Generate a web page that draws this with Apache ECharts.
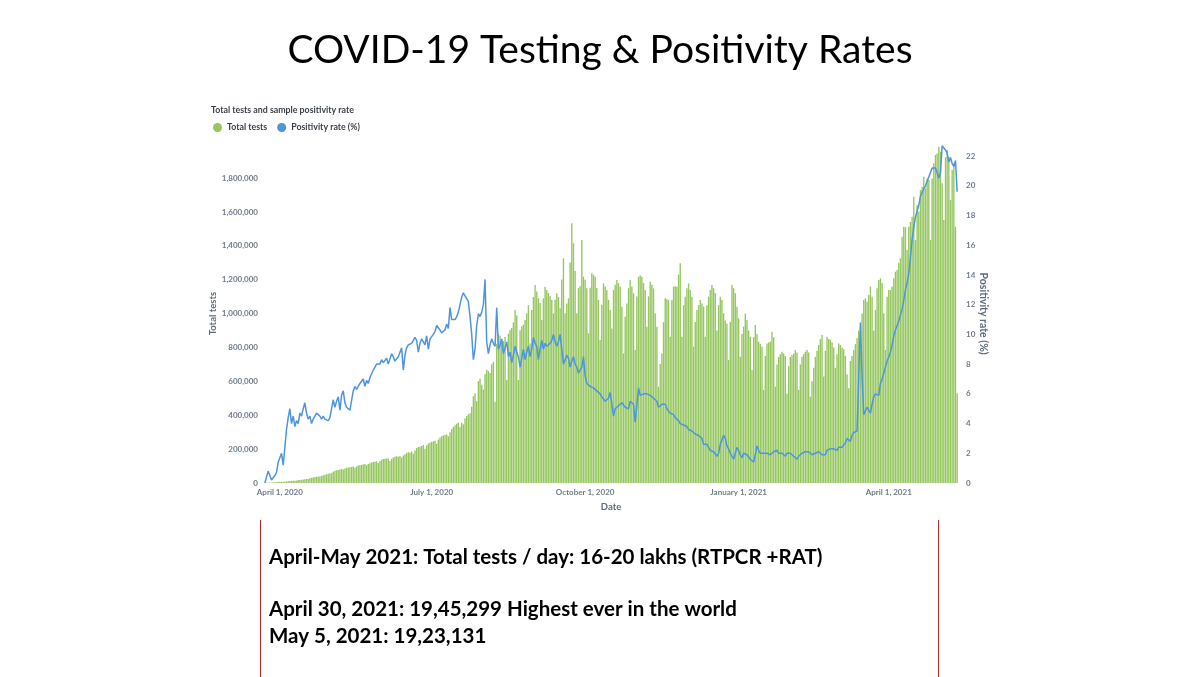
<!DOCTYPE html>
<html>
<head>
<meta charset="utf-8">
<script src="https://cdn.jsdelivr.net/npm/echarts@6/dist/echarts.min.js"></script>
<style>
html,body{margin:0;padding:0;background:#fff;}
#chart{width:1200px;height:677px;}
</style>
</head>
<body>
<div id="chart"></div>
<script>
// ---- DATA ----
const START_DATE = '2020-03-23';
const xTickLabels = ['April 1, 2020', 'July 1, 2020', 'October 1, 2020', 'January 1, 2021', 'April 1, 2021'];
// Daily total tests (thousands)
const totalTestsK = [
  1, 2, 2, 3, 3,
  4, 5, 6, 6, 7, 7, 8,
  8, 10, 11, 12, 12, 13, 14,
  14, 17, 18, 19, 21, 22, 24,
  24, 28, 31, 33, 35, 37, 39,
  38, 42, 46, 49, 52, 54, 56,
  58, 66, 72, 75, 77, 80, 83,
  80, 86, 89, 91, 93, 95, 98,
  90, 98, 103, 105, 107, 109, 112,
  105, 112, 117, 121, 124, 126, 128,
  118, 130, 137, 141, 143, 145, 144,
  130, 143, 151, 155, 158, 155, 160,
  150, 163, 170, 177, 181, 179, 186,
  172, 192, 206, 213, 216, 219, 224,
  202, 222, 233, 239, 243, 246, 250,
  232, 256, 268, 276, 281, 284, 286,
  276, 300, 318, 331, 341, 350, 357,
  330, 356, 346, 381, 396, 405, 412,
  450, 512, 530, 482, 601, 615, 580,
  552, 642, 668, 660, 650, 701, 716,
  480, 822, 882, 870, 848, 838, 862,
  608, 882, 905, 915, 948, 1021, 990,
  608, 902, 925, 935, 962, 1002, 1050,
  824, 1021, 1098, 1169, 1130, 1090, 1062,
  962, 1090, 1159, 1139, 1121, 1102, 1080,
  1002, 1082, 1120, 1098, 1031, 1202, 1326,
  1002, 1060, 1090, 1302, 1533, 1415, 1252,
  1002, 1150, 1162, 1434, 1218, 1200, 1149,
  883, 1152, 1238, 1230, 1218, 1151, 1080,
  844, 1052, 1178, 1160, 1139, 1082, 1021,
  912, 1139, 1170, 1198, 1180, 1159, 1041,
  765, 982, 1060, 1150, 1198, 1160, 1120,
  785, 1101, 1218, 1225, 1218, 1180, 1139,
  922, 1102, 1188, 1170, 1149, 1002, 922,
  568, 702, 765, 950, 1090, 1085, 1080,
  864, 1080, 1159, 1162, 1159, 1230, 1297,
  864, 1050, 1100, 1150, 1178, 1140, 1100,
  805, 950, 1021, 1050, 1080, 1060, 1041,
  864, 1050, 1100, 1140, 1169, 1150, 1120,
  900, 1050, 1100, 1080, 1002, 960, 942,
  726, 950, 1169, 1150, 1120, 1040, 972,
  745, 880, 923, 1000, 962, 900, 864,
  667, 860, 932, 880, 834, 820, 805,
  549, 750, 824, 830, 834, 893, 860,
  569, 700, 745, 760, 775, 765, 750,
  529, 690, 745, 755, 765, 785, 770,
  549, 700, 745, 760, 775, 785, 770,
  510, 600, 680, 745, 780, 814, 850,
  873, 628, 780, 864, 850, 844, 830,
  800, 680, 760, 824, 815, 800, 790, 750, 640,
  560, 720, 750, 785, 820, 854, 900,
  780, 1000, 1080, 1090, 1070, 1110, 1160, 1100,
  900, 1021, 1150, 1198, 1208, 1180, 1000, 785, 1100, 1139,
  1139, 1160, 1208, 1247, 1257, 1300, 1326, 1454, 1513, 1510,
  1375, 1513, 1540, 1572, 1690, 1434, 1641, 1602, 1730, 1749,
  1808, 1740, 1798, 1789, 1434, 1798, 1887, 1936, 1945, 1985,
  1956, 1769, 1552, 1923, 1966, 1926, 1671, 1848, 1887, 1513,
  530
];
// Daily sample positivity rate (%)
const positivityRate = [
  0.0, 0.4, 0.8, 0.5, 0.2, 0.3, 0.5, 0.7, 1.4, 1.5,
  2.0, 1.2, 2.4, 3.6, 4.4, 5.0, 4.0, 4.5, 3.8, 4.2,
  4.0, 4.7, 4.5, 5.0, 5.4, 4.7, 4.3, 4.5, 4.0, 4.3,
  4.5, 4.7, 4.8, 4.5, 4.3, 4.5, 4.3, 4.2, 4.2, 4.4,
  4.3, 5.6, 5.1, 5.5, 5.8, 4.9, 5.9, 6.2, 5.4, 5.1,
  5.0, 4.9, 5.0, 6.2, 6.5, 6.3, 6.4, 6.7, 6.8, 7.0,
  6.5, 6.9, 6.7, 7.1, 7.2, 7.6, 7.8, 8.0, 7.9, 8.0,
  8.3, 8.1, 8.0, 8.4, 8.0, 7.9, 8.7, 8.5, 8.2, 8.3,
  8.5, 8.8, 9.1, 7.6, 8.6, 9.1, 9.3, 9.2, 9.4, 9.6,
  9.8, 9.6, 8.8, 9.4, 9.7, 9.5, 9.3, 9.9, 9.0, 9.7,
  9.8, 10.0, 10.2, 10.6, 10.6, 10.3, 10.1, 10.2, 10.3, 10.7,
  10.4, 11.8, 11.0, 10.9, 11.0, 11.2, 11.5, 12.0, 12.5, 12.8,
  12.6, 12.4, 12.2, 11.2, 10.0, 8.3, 9.0, 10.6, 11.4, 11.2,
  11.5, 12.0, 13.7, 9.5, 8.7, 9.3, 9.7, 9.4, 9.2, 11.8,
  9.0, 9.3, 9.7, 8.7, 9.1, 9.5, 8.5, 8.8, 8.1, 8.6,
  9.2, 8.8, 8.5, 7.8, 8.4, 9.0, 8.3, 8.8, 9.2, 8.5,
  9.0, 9.8, 9.4, 9.2, 8.3, 9.0, 9.6, 9.0, 9.4, 9.2,
  9.3, 9.4, 9.6, 10.0, 9.5, 9.2, 9.5, 10.0, 9.0, 8.0,
  8.3, 8.6, 8.4, 7.8, 8.2, 8.5, 8.0, 7.8, 7.4, 7.6,
  7.8, 8.5, 7.2, 6.7, 6.8, 6.5, 6.6, 6.4, 6.3, 6.2,
  6.1, 6.0, 5.8, 5.8, 5.5, 5.6, 5.7, 6.1, 6.2, 4.5,
  5.0, 4.9, 5.2, 5.3, 5.4, 5.4, 5.1, 5.2, 5.0, 5.5,
  5.4, 5.3, 4.1, 5.2, 6.4, 5.9, 5.8, 6.0, 5.9, 6.0,
  6.0, 5.9, 6.0, 5.7, 5.8, 5.5, 5.1, 5.2, 5.3, 5.2,
  5.3, 5.0, 4.9, 4.7, 4.8, 4.6, 4.4, 4.3, 4.2, 4.0,
  4.0, 3.9, 3.8, 3.8, 3.6, 3.5, 3.5, 3.4, 3.3, 3.4,
  3.2, 3.1, 3.0, 2.6, 2.7, 2.6, 2.4, 2.2, 2.3, 2.1,
  2.0, 1.8, 2.0, 2.6, 2.9, 3.2, 3.0, 2.5, 2.3, 2.0,
  1.8, 1.6, 2.0, 2.4, 2.2, 1.9, 1.7, 2.0, 1.9, 1.9,
  1.8, 1.6, 1.5, 1.4, 1.9, 2.5, 2.2, 2.0, 2.1, 2.0,
  1.9, 2.0, 1.9, 1.9, 2.0, 2.1, 2.2, 2.2, 2.0, 1.9,
  2.0, 1.9, 1.8, 2.0, 2.0, 2.0, 1.9, 1.8, 1.7, 1.6,
  1.8, 1.9, 2.0, 2.0, 2.1, 2.2, 2.1, 2.0, 1.9, 2.0,
  2.0, 1.9, 2.1, 2.1, 1.9, 1.8, 1.9, 2.2, 2.2, 2.3,
  2.3, 2.3, 2.2, 2.2, 2.4, 2.5, 2.4, 2.5, 2.7, 3.0,
  3.1, 2.8, 3.2, 3.4, 3.5, 3.5, 3.4, 10.8, 7.2, 4.6,
  4.5, 5.1, 5.0, 4.7, 5.3, 5.8, 6.0, 6.1, 5.9, 6.7,
  7.0, 7.4, 7.8, 8.2, 8.5, 8.8, 9.3, 9.9, 10.3, 10.6,
  10.9, 11.0, 11.7, 12.3, 13.0, 13.5, 14.1, 15.2, 16.4, 17.2,
  17.9, 18.3, 18.7, 19.3, 19.2, 19.8, 20.0, 20.3, 20.6, 20.9,
  21.2, 21.3, 21.2, 20.9, 20.5, 20.9, 22.7, 22.6, 22.4, 22.2,
  21.6, 21.9, 21.5, 21.3, 21.7, 19.6
];
const notes = [
  'April-May 2021: Total tests / day: 16-20 lakhs (RTPCR +RAT)',
  'April 30, 2021: 19,45,299 Highest ever in the world',
  'May 5, 2021: 19,23,131'
];

// ---- build categories ----
const MONTHS = ['January','February','March','April','May','June','July','August','September','October','November','December'];
const dates = [];
{
  const d0 = new Date(START_DATE + 'T00:00:00Z');
  for (let i = 0; i < totalTestsK.length; i++) {
    const d = new Date(d0.getTime() + i * 86400000);
    dates.push(MONTHS[d.getUTCMonth()] + ' ' + d.getUTCDate() + ', ' + d.getUTCFullYear());
  }
}
const totalTests = totalTestsK.map(v => v * 1000);

const chart = echarts.init(document.getElementById('chart'), null, {renderer: 'canvas'});
const axisLabelColor = '#6f7b8b';
const FONT = 'Lato, "Open Sans", sans-serif';

chart.setOption({
  animation: false,
  backgroundColor: '#ffffff',
  title: [
    {
      text: 'COVID-19 Testing & Positivity Rates',
      left: 'center', top: 31, padding: 0,
      textStyle: {fontFamily: FONT, fontSize: 39, fontWeight: 'normal', color: '#000000'}
    },
    {
      text: 'Total tests and sample positivity rate',
      left: 211, top: 106, padding: 0,
      textStyle: {fontFamily: FONT, fontSize: 8.8, fontWeight: 'bold', color: '#3a3f48'}
    }
  ],
  legend: {
    left: 213, top: 123, padding: 0,
    icon: 'circle', itemWidth: 9, itemHeight: 9, itemGap: 10,
    textStyle: {fontFamily: FONT, fontSize: 8.8, fontWeight: 'bold', color: '#3a3f48'},
    data: ['Total tests', 'Positivity rate (%)']
  },
  grid: {left: 264, right: 242, top: 144.2, bottom: 194, containLabel: false},
  xAxis: {
    type: 'category',
    data: dates,
    boundaryGap: true,
    name: 'Date', nameLocation: 'middle', nameGap: 19, nameMoveOverlap: false,
    nameTextStyle: {fontFamily: FONT, fontSize: 9.5, fontWeight: 'bold', color: '#5e6b7b'},
    axisLine: {show: false},
    axisTick: {show: false},
    axisLabel: {
      interval: (idx, val) => xTickLabels.includes(val),
      fontFamily: FONT, fontSize: 8, fontWeight: 'bold', color: axisLabelColor, margin: 5
    },
    splitLine: {show: false}
  },
  yAxis: [
    {
      type: 'value', min: 0, max: 2000000, interval: 200000,
      name: 'Total tests', nameLocation: 'middle', nameGap: 46, nameRotate: 90, nameMoveOverlap: false,
      nameTextStyle: {fontFamily: FONT, fontSize: 9.5, fontWeight: 'bold', color: '#5e6b7b'},
      axisLine: {show: false}, axisTick: {show: false}, splitLine: {show: false},
      axisLabel: {
        showMaxLabel: false, margin: 6,
        formatter: v => v.toLocaleString('en-US'),
        fontFamily: FONT, fontSize: 8, fontWeight: 'bold', color: axisLabelColor
      }
    },
    {
      type: 'value', min: 0, max: 22.8, interval: 2,
      name: 'Positivity rate (%)', nameLocation: 'middle', nameGap: 20, nameRotate: -90, nameMoveOverlap: false,
      nameTextStyle: {fontFamily: FONT, fontSize: 10.5, fontWeight: 'bold', color: '#5e6b7b'},
      axisLine: {show: false}, axisTick: {show: false}, splitLine: {show: false},
      axisLabel: {
        showMaxLabel: false, margin: 8,
        formatter: v => String(v),
        fontFamily: FONT, fontSize: 8, fontWeight: 'bold', color: axisLabelColor
      }
    }
  ],
  series: [
    {
      name: 'Total tests', type: 'bar', yAxisIndex: 0,
      data: totalTests,
      barCategoryGap: '18%',
      itemStyle: {color: '#95c65f'},
      emphasis: {disabled: true}
    },
    {
      name: 'Positivity rate (%)', type: 'line', yAxisIndex: 1,
      data: positivityRate,
      symbol: 'none', smooth: false,
      lineStyle: {color: '#4d95dd', width: 1.5},
      itemStyle: {color: '#4d95dd'},
      emphasis: {disabled: true}
    }
  ],
  graphic: [
    {type: 'line', shape: {x1: 260.5, y1: 520, x2: 260.5, y2: 677}, style: {stroke: '#b22a2a', lineWidth: 1}},
    {type: 'line', shape: {x1: 938.5, y1: 520, x2: 938.5, y2: 677}, style: {stroke: '#b22a2a', lineWidth: 1}},
    {type: 'text', x: 269, y: 557, style: {text: notes[0], font: 'bold 20.5px ' + FONT, fill: '#000', textVerticalAlign: 'middle'}},
    {type: 'text', x: 269, y: 609, style: {text: notes[1], font: 'bold 20.5px ' + FONT, fill: '#000', textVerticalAlign: 'middle'}},
    {type: 'text', x: 269, y: 636, style: {text: notes[2], font: 'bold 20.5px ' + FONT, fill: '#000', textVerticalAlign: 'middle'}}
  ]
});
</script>
</body>
</html>
